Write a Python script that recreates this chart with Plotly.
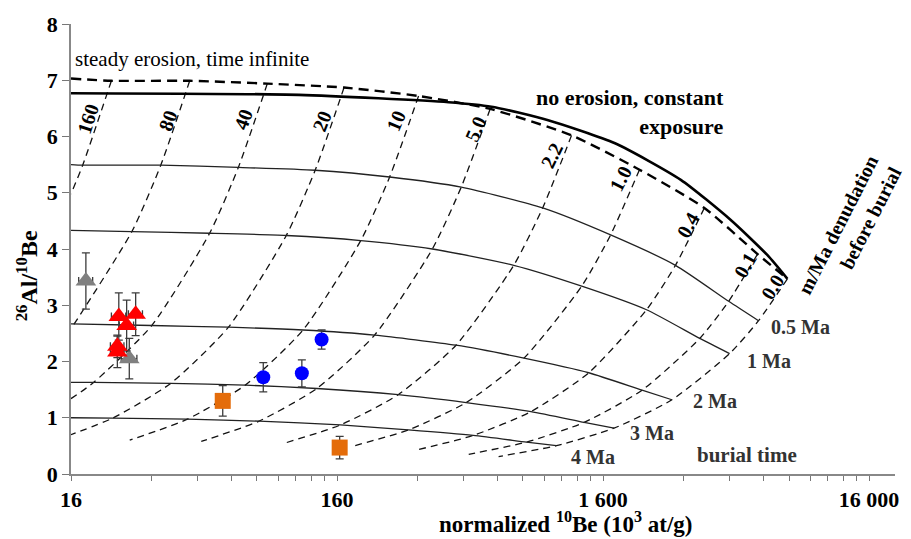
import plotly.graph_objects as go
import math

# ---------------- data ----------------
# erosion-rate lines (m/Ma denudation before burial); points at burial 0,0.5,1,2,3,4,5 Ma (clipped at x=16)
erosion_labels = ["160", "80", "40", "20", "10", "5.0", "2.2", "1.0", "0.4", "0.1", "0.0"]
ero_x = [
    [22.7, 17.7, 16.0],
    [44.7, 34.8, 27.1, 16.4, 16.0],
    [87.5, 68.1, 53.1, 32.2, 19.5, 16.0],
    [170, 132.4, 103.1, 62.5, 37.9, 23.0, 16.0],
    [324, 252.3, 196.5, 119.2, 72.3, 43.8, 26.6],
    [602, 468.8, 365.1, 221.5, 134.3, 81.5, 49.4],
    [1218, 948.6, 738.7, 448.1, 271.7, 164.8, 100.0],
    [2193, 1708, 1330, 806.8, 489.3, 296.7, 180.0],
    [3844, 2994, 2331, 1414, 857.6, 520.1, 315.6],
    [6093, 4745, 3695, 2242, 1359, 824.4, 500.2],
    [7890, 6145, 4785, 2903, 1760, 1068, 647.8],
]
ero_y = [
    [6.99, 5.49, 4.98],
    [6.99, 5.49, 4.31, 2.66, 2.59],
    [6.94, 5.45, 4.28, 2.64, 1.63, 1.34],
    [6.87, 5.40, 4.24, 2.61, 1.61, 0.995, 0.70],
    [6.72, 5.28, 4.15, 2.56, 1.58, 0.974, 0.601],
    [6.49, 5.10, 4.00, 2.47, 1.52, 0.940, 0.580],
    [6.02, 4.73, 3.71, 2.29, 1.41, 0.872, 0.538],
    [5.41, 4.25, 3.34, 2.06, 1.27, 0.784, 0.484],
    [4.73, 3.71, 2.92, 1.80, 1.11, 0.685, 0.423],
    [3.91, 3.07, 2.41, 1.49, 0.918, 0.567, 0.350],
    [3.47, 2.725, 2.14, 1.32, 0.815, 0.503, 0.310],
]

# burial isochrons
iso_labels = ["0.5 Ma", "1 Ma", "2 Ma", "3 Ma", "4 Ma"]
iso_x = [
    [6145, 4745, 2994, 1708, 948.6, 468.8, 252.3, 132.4, 68.1, 34.8, 17.7, 16],
    [4785, 3695, 2331, 1330, 738.7, 365.1, 196.5, 103.1, 53.1, 27.1, 16],
    [2903, 2242, 1414, 806.8, 448.1, 221.5, 119.2, 62.5, 32.2, 16],
    [1760, 1359, 857.6, 489.3, 271.7, 134.3, 72.3, 37.9, 19.5, 16],
    [1068, 824.4, 520.1, 296.7, 164.8, 81.5, 43.8, 23.0, 16],
]
iso_y = [
    [2.725, 3.07, 3.71, 4.25, 4.73, 5.10, 5.28, 5.40, 5.45, 5.49, 5.49, 5.50],
    [2.14, 2.41, 2.92, 3.34, 3.71, 4.00, 4.15, 4.24, 4.28, 4.31, 4.33],
    [1.32, 1.49, 1.80, 2.06, 2.29, 2.47, 2.56, 2.61, 2.64, 2.67],
    [0.815, 0.918, 1.11, 1.27, 1.41, 1.52, 1.58, 1.61, 1.63, 1.63],
    [0.503, 0.567, 0.685, 0.784, 0.872, 0.940, 0.974, 0.995, 1.00],
]

# steady erosion, time infinite
steady_x = [16, 22.7, 44.7, 87.5, 170, 324, 602, 1218, 2193, 3844, 6093, 7890]
steady_y = [7.03, 6.99, 6.99, 6.94, 6.87, 6.72, 6.49, 6.02, 5.41, 4.73, 3.91, 3.47]

# no erosion, constant exposure
noero_x = [16, 115, 420, 609, 995, 1774, 3136, 4820, 6640, 7890]
noero_y = [6.77, 6.74, 6.61, 6.53, 6.29, 5.88, 5.23, 4.52, 3.89, 3.47]

# samples
gray_x = [18.2, 26.5]
gray_y = [3.43, 2.05]
gray_xerr = [1.1, 1.8]
gray_yerr = [0.50, 0.36]

red_x = [24.2, 28.0, 25.9, 23.9, 23.9]
red_y = [2.80, 2.84, 2.64, 2.27, 2.17]
red_xerr = [1.5, 1.7, 1.6, 1.4, 1.4]
red_yerr = [0.42, 0.38, 0.45, 0.20, 0.28]

blue_x = [84.5, 118, 140]
blue_y = [1.72, 1.79, 2.39]
blue_yerr = [0.26, 0.24, 0.17]

orange_x = [59.5, 163.7]
orange_y = [1.30, 0.47]
orange_yerr = [0.27, 0.20]

x_tickvals = [16, 160, 1600, 16000]
x_ticktext = ["16", "160", "1 600", "16 000"]

# ---------------- figure ----------------
FONT = "Liberation Serif"
L, R, T, B = 71, 13, 19, 65
W, H = 911, 539
PW, PH = W - L - R, H - T - B


def pp(px, py):
    return (px - L) / PW, (H - B - py) / PH


fig = go.Figure()

# erosion lines (thin dashed)
for xs, ys in zip(ero_x, ero_y):
    fig.add_trace(go.Scatter(x=xs, y=ys, mode="lines", line=dict(color="#111", width=1.3, dash="7px,5px", shape="spline", smoothing=0.6), hoverinfo="skip", showlegend=False))

# isochrons (thin solid)
for xs, ys in zip(iso_x, iso_y):
    fig.add_trace(go.Scatter(x=xs, y=ys, mode="lines", line=dict(color="#222", width=1.3, shape="spline", smoothing=0.6), hoverinfo="skip", showlegend=False))

# steady erosion curve (thick dashed)
fig.add_trace(go.Scatter(x=steady_x, y=steady_y, mode="lines", line=dict(color="#000", width=2.4, dash="10px,6px", shape="spline", smoothing=0.6), hoverinfo="skip", showlegend=False))

# no erosion curve (thick solid)
fig.add_trace(go.Scatter(x=noero_x, y=noero_y, mode="lines", line=dict(color="#000", width=2.6, shape="spline", smoothing=0.6), hoverinfo="skip", showlegend=False))

err_style = dict(color="#3c3c3c", thickness=1.3, width=4)

fig.add_trace(go.Scatter(x=gray_x, y=gray_y, mode="markers",
                         marker=dict(symbol="triangle-up", size=18, color="#808080"),
                         error_x=dict(type="data", array=gray_xerr, **err_style),
                         error_y=dict(type="data", array=gray_yerr, **err_style), showlegend=False))
fig.add_trace(go.Scatter(x=red_x, y=red_y, mode="markers",
                         marker=dict(symbol="triangle-up", size=18, color="#ff0000"),
                         error_x=dict(type="data", array=red_xerr, **err_style),
                         error_y=dict(type="data", array=red_yerr, **err_style), showlegend=False))
fig.add_trace(go.Scatter(x=blue_x, y=blue_y, mode="markers",
                         marker=dict(symbol="circle", size=14, color="#0000ff"),
                         error_y=dict(type="data", array=blue_yerr, **err_style), showlegend=False))
fig.add_trace(go.Scatter(x=orange_x, y=orange_y, mode="markers",
                         marker=dict(symbol="square", size=16, color="#e46c0a"),
                         error_y=dict(type="data", array=orange_yerr, **err_style), showlegend=False))

ann = []


def add(text, px, py, size=20, bold=True, angle=0, xanchor="center", yanchor="middle", align="center", color="#000"):
    x, y = pp(px, py)
    ann.append(dict(text=text, x=x, y=y, xref="paper", yref="paper", showarrow=False, textangle=angle,
                    xanchor=xanchor, yanchor=yanchor, align=align,
                    font=dict(family=FONT, size=size, color=color, weight="bold" if bold else "normal")))


# erosion rate labels
ero_label_pos = [(88, 115), (168, 117), (244, 115), (323, 117), (397, 117), (477, 125),
                 (553, 152), (623, 175), (690, 222), (748, 263), (775, 285)]
ero_label_ang = [-72, -70, -69, -68, -67, -66, -64, -63, -61, -60, -58]
for lab, (px, py), ang in zip(erosion_labels, ero_label_pos, ero_label_ang):
    add(lab, px, py, size=20, angle=ang)

# isochron labels
iso_label_pos = [(772, 325), (747, 360), (693, 400), (630, 433), (571, 457)]
for lab, (px, py) in zip(iso_labels, iso_label_pos):
    add(lab, px, py, size=20, xanchor="left", color="#333")
add("burial time", 697, 455, size=21, xanchor="left", color="#333")

add("steady erosion, time infinite", 73, 54, size=21, bold=False, xanchor="left")
add("no erosion, constant<br>exposure", 728, 108, size=22, xanchor="right", align="right")
add("m/Ma denudation<br>before burial", 852, 228, size=20, angle=-63, align="right")

# axis titles
add("normalized <sup>10</sup>Be (10<sup>3</sup> at/g)", 567, 523, size=23)
add("<sup>26</sup>Al/<sup>10</sup>Be", 27, 274, size=24, angle=-90)

minor_vals = [16 * k * 10 ** n for n in range(0, 4) for k in range(2, 10)]

fig.update_layout(
    width=W, height=H,
    margin=dict(l=L, r=R, t=T, b=B),
    paper_bgcolor="white", plot_bgcolor="white",
    showlegend=False,
    annotations=ann,
    xaxis=dict(type="log", range=[math.log10(16), math.log10(16) + PW / 267.0],
               tickmode="array", tickvals=x_tickvals, ticktext=x_ticktext,
               ticks="outside", ticklen=5, tickcolor="#777", tickwidth=1.2,
               showline=True, linecolor="#888", linewidth=1.5, showgrid=False, zeroline=False,
               tickfont=dict(family=FONT, size=22, color="#000", weight="bold"),
               minor=dict(tickmode="array", tickvals=minor_vals, ticks="outside", ticklen=5, tickcolor="#777", tickwidth=1.2, showgrid=False)),
    yaxis=dict(range=[0, 8], dtick=1, ticks="outside", ticklen=7, tickcolor="#777", tickwidth=1.2,
               showline=True, linecolor="#888", linewidth=1.5, showgrid=False, zeroline=False,
               tickfont=dict(family=FONT, size=22, color="#000", weight="bold")),
)

fig.write_html("out.html", config={"displayModeBar": False},
               post_script="document.body.style.margin='0px';document.body.style.overflow='hidden';")
